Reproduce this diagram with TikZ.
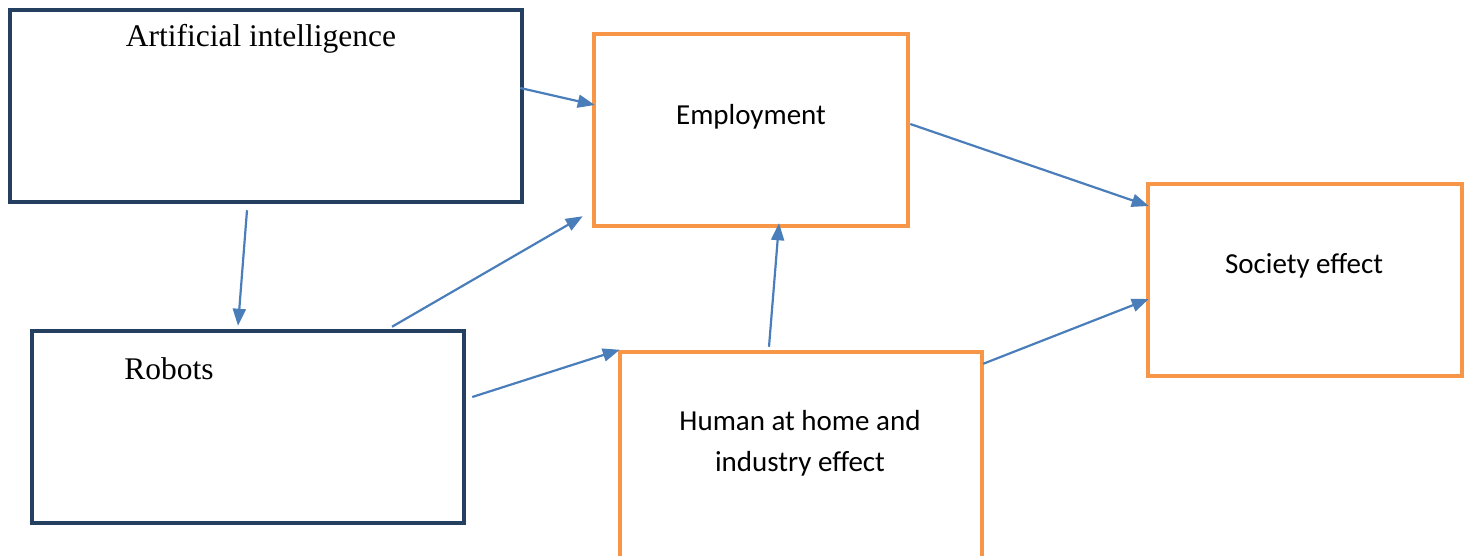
\documentclass[tikz,border=0pt]{standalone}
\usepackage{fontspec}
\setmainfont{Liberation Serif}
\newfontfamily\bodysans{Carlito}
\usetikzlibrary{arrows.meta,calc}
\definecolor{navy}{HTML}{243F60}
\definecolor{amber}{HTML}{F79646}
\definecolor{linkblue}{HTML}{4A7EBB}
\begin{document}
\begin{tikzpicture}[x=1pt,y=-1pt,
  darkbox/.style={draw=navy,line width=4.5pt,fill=white,inner sep=0pt},
  lightbox/.style={draw=amber,line width=4.5pt,fill=white,inner sep=0pt},
  serifText/.style={font=\fontsize{31.5}{38}\selectfont,anchor=base,inner sep=0pt},
  sansText/.style={font=\bodysans\fontsize{29}{41}\selectfont,anchor=base,inner sep=0pt,align=center},
  link/.style={draw=linkblue,line width=2.2pt,-{Triangle[length=17pt,width=13pt]}}]

\useasboundingbox (0,0) rectangle (1469,556);
\clip (0,0) rectangle (1469,556);

% boxes
\node[darkbox,minimum width=512pt,minimum height=192pt] (ai) at (266,106) {};
\node[darkbox,minimum width=432pt,minimum height=192pt] (robots) at (248,427) {};
\node[lightbox,minimum width=314pt,minimum height=192pt] (emp) at (751,130) {};
\node[lightbox,minimum width=314pt,minimum height=192pt] (soc) at (1305,280) {};
\node[lightbox,minimum width=362pt,minimum height=260pt] (human) at (801,482) {};

% labels
\node[serifText] (aiText) at (261,47) {Artificial intelligence};
\node[serifText] (robotsText) at (169,379) {Robots};
\node[sansText] (empText) at (751,125) {Employment};
\node[sansText] (socText) at (1304,273) {Society effect};
\node[sansText] (humanText) at (800,471) {Human at home and\\industry effect};

% connectors
\draw[link] ($(ai.east)+(-4,-18)$) -- ($(emp.west)+(3,-25)$);
\draw[link] ($(ai.south)+(-19,6)$) -- ($(robots.north)+(-10,-3)$);
\draw[link] ($(robots.north)+(144,-2)$) -- ($(emp.south west)+(-9,-12)$);
\draw[link] ($(robots.east)+(6,-30)$) -- ($(human.north west)+(2,0)$);
\draw[link] ($(human.north)+(-32,-3)$) -- ($(emp.south)+(28,-5)$);
\draw[link] ($(emp.east)+(0,-6)$) -- ($(soc.west)+(3,-74)$);
\draw[link] ($(human.north east)+(-1,14)$) -- ($(soc.west)+(3,19)$);
\end{tikzpicture}
\end{document}
